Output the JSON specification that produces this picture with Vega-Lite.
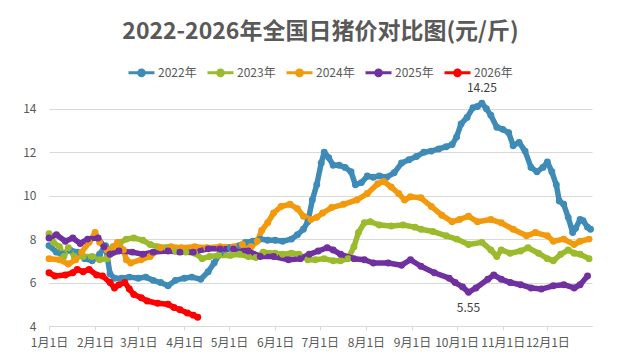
{
  "$schema": "https://vega.github.io/schema/vega-lite/v6.json",
  "width": 543,
  "height": 239,
  "autosize": {"type": "none"},
  "padding": {"left": 49, "top": 87, "right": 29, "bottom": 35},
  "background": "white",
  "title": {"text": "2022-2026年全国日猪价对比图(元/斤)", "fontSize": 23, "font": "Noto Sans CJK SC", "fontWeight": "bold", "color": "#595959", "anchor": "middle", "offset": 14},
  "config": {"font": "Noto Sans CJK SC", "view": {"stroke": null}},
  "layer": [
    {
      "data": {"values": [
        {"year":"2022年","date":"2022-01-01","price":7.7},{"year":"2022年","date":"2022-01-06","price":7.4},{"year":"2022年","date":"2022-01-10","price":7.3},{"year":"2022年","date":"2022-01-15","price":7.5},{"year":"2022年","date":"2022-01-20","price":7.4},{"year":"2022年","date":"2022-01-25","price":7.1},{"year":"2022年","date":"2022-01-30","price":7.0},{"year":"2022年","date":"2022-02-04","price":7.3},{"year":"2022年","date":"2022-02-08","price":7.7},{"year":"2022年","date":"2022-02-11","price":6.4},{"year":"2022年","date":"2022-02-14","price":6.2},{"year":"2022年","date":"2022-02-19","price":6.2},{"year":"2022年","date":"2022-02-24","price":6.25},{"year":"2022年","date":"2022-03-01","price":6.2},{"year":"2022年","date":"2022-03-06","price":6.25},{"year":"2022年","date":"2022-03-11","price":6.1},{"year":"2022年","date":"2022-03-16","price":6.0},{"year":"2022年","date":"2022-03-21","price":5.85},{"year":"2022年","date":"2022-03-26","price":6.1},{"year":"2022年","date":"2022-04-01","price":6.2},{"year":"2022年","date":"2022-04-06","price":6.25},{"year":"2022年","date":"2022-04-12","price":6.15},{"year":"2022年","date":"2022-04-17","price":6.5},{"year":"2022年","date":"2022-04-21","price":6.9},{"year":"2022年","date":"2022-04-25","price":7.35},{"year":"2022年","date":"2022-05-02","price":7.6},{"year":"2022年","date":"2022-05-08","price":7.7},{"year":"2022年","date":"2022-05-12","price":7.85},{"year":"2022年","date":"2022-05-17","price":7.9},{"year":"2022年","date":"2022-05-22","price":8.0},{"year":"2022年","date":"2022-05-27","price":7.95},{"year":"2022年","date":"2022-06-01","price":7.95},{"year":"2022年","date":"2022-06-06","price":7.9},{"year":"2022年","date":"2022-06-12","price":8.0},{"year":"2022年","date":"2022-06-16","price":8.2},{"year":"2022年","date":"2022-06-20","price":8.45},{"year":"2022年","date":"2022-06-23","price":8.8},{"year":"2022年","date":"2022-06-26","price":9.8},{"year":"2022年","date":"2022-06-29","price":10.5},{"year":"2022年","date":"2022-07-02","price":11.5},{"year":"2022年","date":"2022-07-04","price":12.0},{"year":"2022年","date":"2022-07-07","price":11.75},{"year":"2022年","date":"2022-07-10","price":11.4},{"year":"2022年","date":"2022-07-14","price":11.4},{"year":"2022年","date":"2022-07-18","price":11.3},{"year":"2022年","date":"2022-07-22","price":11.1},{"year":"2022年","date":"2022-07-25","price":10.5},{"year":"2022年","date":"2022-07-29","price":10.6},{"year":"2022年","date":"2022-08-02","price":10.9},{"year":"2022年","date":"2022-08-06","price":10.85},{"year":"2022年","date":"2022-08-10","price":10.9},{"year":"2022年","date":"2022-08-15","price":10.85},{"year":"2022年","date":"2022-08-20","price":11.05},{"year":"2022年","date":"2022-08-25","price":11.5},{"year":"2022年","date":"2022-08-30","price":11.65},{"year":"2022年","date":"2022-09-04","price":11.8},{"year":"2022年","date":"2022-09-09","price":12.0},{"year":"2022年","date":"2022-09-14","price":12.05},{"year":"2022年","date":"2022-09-19","price":12.15},{"year":"2022年","date":"2022-09-24","price":12.25},{"year":"2022年","date":"2022-09-28","price":12.35},{"year":"2022年","date":"2022-10-01","price":12.7},{"year":"2022年","date":"2022-10-04","price":13.3},{"year":"2022年","date":"2022-10-08","price":13.6},{"year":"2022年","date":"2022-10-12","price":14.05},{"year":"2022年","date":"2022-10-15","price":14.1},{"year":"2022年","date":"2022-10-18","price":14.25},{"year":"2022年","date":"2022-10-21","price":14.0},{"year":"2022年","date":"2022-10-24","price":13.7},{"year":"2022年","date":"2022-10-28","price":13.15},{"year":"2022年","date":"2022-11-01","price":13.05},{"year":"2022年","date":"2022-11-05","price":12.9},{"year":"2022年","date":"2022-11-08","price":12.3},{"year":"2022年","date":"2022-11-12","price":12.45},{"year":"2022年","date":"2022-11-16","price":12.05},{"year":"2022年","date":"2022-11-20","price":11.3},{"year":"2022年","date":"2022-11-24","price":11.1},{"year":"2022年","date":"2022-11-28","price":11.3},{"year":"2022年","date":"2022-12-01","price":11.55},{"year":"2022年","date":"2022-12-04","price":11.1},{"year":"2022年","date":"2022-12-07","price":10.5},{"year":"2022年","date":"2022-12-09","price":9.75},{"year":"2022年","date":"2022-12-12","price":9.6},{"year":"2022年","date":"2022-12-15","price":9.0},{"year":"2022年","date":"2022-12-18","price":8.3},{"year":"2022年","date":"2022-12-20","price":8.5},{"year":"2022年","date":"2022-12-23","price":8.9},{"year":"2022年","date":"2022-12-25","price":8.85},{"year":"2022年","date":"2022-12-28","price":8.55},{"year":"2022年","date":"2022-12-30","price":8.45},
        {"year":"2023年","date":"2023-01-01","price":8.25},{"year":"2023年","date":"2023-01-04","price":7.85},{"year":"2023年","date":"2023-01-08","price":7.65},{"year":"2023年","date":"2023-01-11","price":7.2},{"year":"2023年","date":"2023-01-14","price":7.6},{"year":"2023年","date":"2023-01-18","price":7.2},{"year":"2023年","date":"2023-01-24","price":7.2},{"year":"2023年","date":"2023-01-30","price":7.2},{"year":"2023年","date":"2023-02-04","price":7.05},{"year":"2023年","date":"2023-02-09","price":7.1},{"year":"2023年","date":"2023-02-13","price":7.65},{"year":"2023年","date":"2023-02-18","price":7.85},{"year":"2023年","date":"2023-02-22","price":8.0},{"year":"2023年","date":"2023-02-27","price":8.05},{"year":"2023年","date":"2023-03-04","price":7.95},{"year":"2023年","date":"2023-03-09","price":7.75},{"year":"2023年","date":"2023-03-14","price":7.65},{"year":"2023年","date":"2023-03-20","price":7.6},{"year":"2023年","date":"2023-03-26","price":7.45},{"year":"2023年","date":"2023-04-02","price":7.4},{"year":"2023年","date":"2023-04-08","price":7.35},{"year":"2023年","date":"2023-04-13","price":7.1},{"year":"2023年","date":"2023-04-18","price":7.2},{"year":"2023年","date":"2023-04-24","price":7.25},{"year":"2023年","date":"2023-05-02","price":7.25},{"year":"2023年","date":"2023-05-08","price":7.3},{"year":"2023年","date":"2023-05-14","price":7.2},{"year":"2023年","date":"2023-05-19","price":7.15},{"year":"2023年","date":"2023-05-24","price":7.4},{"year":"2023年","date":"2023-06-01","price":7.35},{"year":"2023年","date":"2023-06-06","price":7.3},{"year":"2023年","date":"2023-06-12","price":7.35},{"year":"2023年","date":"2023-06-17","price":7.3},{"year":"2023年","date":"2023-06-23","price":7.05},{"year":"2023年","date":"2023-06-28","price":7.05},{"year":"2023年","date":"2023-07-04","price":7.1},{"year":"2023年","date":"2023-07-10","price":7.0},{"year":"2023年","date":"2023-07-15","price":7.0},{"year":"2023年","date":"2023-07-20","price":7.1},{"year":"2023年","date":"2023-07-24","price":7.65},{"year":"2023年","date":"2023-07-27","price":8.3},{"year":"2023年","date":"2023-07-31","price":8.75},{"year":"2023年","date":"2023-08-04","price":8.8},{"year":"2023年","date":"2023-08-10","price":8.65},{"year":"2023年","date":"2023-08-18","price":8.6},{"year":"2023年","date":"2023-08-26","price":8.65},{"year":"2023年","date":"2023-09-03","price":8.55},{"year":"2023年","date":"2023-09-07","price":8.45},{"year":"2023年","date":"2023-09-15","price":8.35},{"year":"2023年","date":"2023-09-24","price":8.15},{"year":"2023年","date":"2023-10-01","price":8.0},{"year":"2023年","date":"2023-10-09","price":7.75},{"year":"2023年","date":"2023-10-18","price":7.85},{"year":"2023年","date":"2023-10-24","price":7.5},{"year":"2023年","date":"2023-10-28","price":7.2},{"year":"2023年","date":"2023-10-31","price":7.5},{"year":"2023年","date":"2023-11-06","price":7.35},{"year":"2023年","date":"2023-11-13","price":7.45},{"year":"2023年","date":"2023-11-18","price":7.6},{"year":"2023年","date":"2023-11-25","price":7.35},{"year":"2023年","date":"2023-12-01","price":7.1},{"year":"2023年","date":"2023-12-05","price":7.0},{"year":"2023年","date":"2023-12-10","price":7.3},{"year":"2023年","date":"2023-12-15","price":7.5},{"year":"2023年","date":"2023-12-19","price":7.35},{"year":"2023年","date":"2023-12-23","price":7.3},{"year":"2023年","date":"2023-12-29","price":7.1},
        {"year":"2024年","date":"2024-01-01","price":7.1},{"year":"2024年","date":"2024-01-08","price":7.05},{"year":"2024年","date":"2024-01-14","price":6.85},{"year":"2024年","date":"2024-01-19","price":7.05},{"year":"2024年","date":"2024-01-23","price":7.4},{"year":"2024年","date":"2024-01-28","price":7.85},{"year":"2024年","date":"2024-02-01","price":8.3},{"year":"2024年","date":"2024-02-04","price":7.85},{"year":"2024年","date":"2024-02-09","price":7.5},{"year":"2024年","date":"2024-02-14","price":7.65},{"year":"2024年","date":"2024-02-16","price":7.85},{"year":"2024年","date":"2024-02-20","price":7.5},{"year":"2024年","date":"2024-02-22","price":7.05},{"year":"2024年","date":"2024-02-25","price":6.9},{"year":"2024年","date":"2024-03-03","price":7.05},{"year":"2024年","date":"2024-03-09","price":7.2},{"year":"2024年","date":"2024-03-16","price":7.6},{"year":"2024年","date":"2024-03-23","price":7.65},{"year":"2024年","date":"2024-03-30","price":7.6},{"year":"2024年","date":"2024-04-08","price":7.65},{"year":"2024年","date":"2024-04-16","price":7.6},{"year":"2024年","date":"2024-04-25","price":7.65},{"year":"2024年","date":"2024-05-04","price":7.65},{"year":"2024年","date":"2024-05-10","price":7.75},{"year":"2024年","date":"2024-05-16","price":7.65},{"year":"2024年","date":"2024-05-20","price":7.9},{"year":"2024年","date":"2024-05-23","price":8.4},{"year":"2024年","date":"2024-05-27","price":8.75},{"year":"2024年","date":"2024-05-31","price":9.2},{"year":"2024年","date":"2024-06-05","price":9.5},{"year":"2024年","date":"2024-06-11","price":9.6},{"year":"2024年","date":"2024-06-16","price":9.4},{"year":"2024年","date":"2024-06-20","price":9.05},{"year":"2024年","date":"2024-06-25","price":8.9},{"year":"2024年","date":"2024-06-29","price":9.0},{"year":"2024年","date":"2024-07-03","price":9.2},{"year":"2024年","date":"2024-07-09","price":9.45},{"year":"2024年","date":"2024-07-17","price":9.6},{"year":"2024年","date":"2024-07-26","price":9.8},{"year":"2024年","date":"2024-08-02","price":10.1},{"year":"2024年","date":"2024-08-09","price":10.55},{"year":"2024年","date":"2024-08-13","price":10.65},{"year":"2024年","date":"2024-08-18","price":10.4},{"year":"2024年","date":"2024-08-23","price":10.1},{"year":"2024年","date":"2024-08-27","price":9.8},{"year":"2024年","date":"2024-08-31","price":9.95},{"year":"2024年","date":"2024-09-07","price":9.9},{"year":"2024年","date":"2024-09-14","price":9.5},{"year":"2024年","date":"2024-09-21","price":9.1},{"year":"2024年","date":"2024-09-28","price":8.8},{"year":"2024年","date":"2024-10-03","price":8.9},{"year":"2024年","date":"2024-10-09","price":9.05},{"year":"2024年","date":"2024-10-15","price":8.8},{"year":"2024年","date":"2024-10-24","price":8.9},{"year":"2024年","date":"2024-10-31","price":8.75},{"year":"2024年","date":"2024-11-08","price":8.45},{"year":"2024年","date":"2024-11-17","price":8.15},{"year":"2024年","date":"2024-11-23","price":8.3},{"year":"2024年","date":"2024-12-01","price":8.15},{"year":"2024年","date":"2024-12-05","price":7.9},{"year":"2024年","date":"2024-12-12","price":8.0},{"year":"2024年","date":"2024-12-19","price":7.75},{"year":"2024年","date":"2024-12-23","price":7.9},{"year":"2024年","date":"2024-12-29","price":8.0},
        {"year":"2025年","date":"2025-01-01","price":8.05},{"year":"2025年","date":"2025-01-06","price":8.2},{"year":"2025年","date":"2025-01-12","price":7.9},{"year":"2025年","date":"2025-01-17","price":8.05},{"year":"2025年","date":"2025-01-22","price":7.8},{"year":"2025年","date":"2025-01-27","price":8.0},{"year":"2025年","date":"2025-02-03","price":8.05},{"year":"2025年","date":"2025-02-07","price":7.65},{"year":"2025年","date":"2025-02-11","price":7.3},{"year":"2025年","date":"2025-02-17","price":7.45},{"year":"2025年","date":"2025-02-26","price":7.4},{"year":"2025年","date":"2025-03-04","price":7.3},{"year":"2025年","date":"2025-03-11","price":7.4},{"year":"2025年","date":"2025-03-21","price":7.45},{"year":"2025年","date":"2025-03-29","price":7.4},{"year":"2025年","date":"2025-04-07","price":7.4},{"year":"2025年","date":"2025-04-17","price":7.55},{"year":"2025年","date":"2025-04-25","price":7.55},{"year":"2025年","date":"2025-05-04","price":7.55},{"year":"2025年","date":"2025-05-14","price":7.45},{"year":"2025年","date":"2025-05-22","price":7.2},{"year":"2025年","date":"2025-05-31","price":7.2},{"year":"2025年","date":"2025-06-10","price":7.05},{"year":"2025年","date":"2025-06-18","price":7.1},{"year":"2025年","date":"2025-06-24","price":7.3},{"year":"2025年","date":"2025-06-30","price":7.45},{"year":"2025年","date":"2025-07-06","price":7.6},{"year":"2025年","date":"2025-07-10","price":7.5},{"year":"2025年","date":"2025-07-15","price":7.3},{"year":"2025年","date":"2025-07-24","price":7.1},{"year":"2025年","date":"2025-07-31","price":7.05},{"year":"2025年","date":"2025-08-06","price":6.9},{"year":"2025年","date":"2025-08-16","price":6.9},{"year":"2025年","date":"2025-08-25","price":6.8},{"year":"2025年","date":"2025-08-31","price":7.05},{"year":"2025年","date":"2025-09-07","price":6.75},{"year":"2025年","date":"2025-09-16","price":6.45},{"year":"2025年","date":"2025-09-26","price":6.2},{"year":"2025年","date":"2025-09-30","price":6.0},{"year":"2025年","date":"2025-10-05","price":5.8},{"year":"2025年","date":"2025-10-09","price":5.55},{"year":"2025年","date":"2025-10-14","price":5.75},{"year":"2025年","date":"2025-10-22","price":6.15},{"year":"2025年","date":"2025-10-26","price":6.35},{"year":"2025年","date":"2025-10-31","price":6.15},{"year":"2025年","date":"2025-11-06","price":6.0},{"year":"2025年","date":"2025-11-13","price":5.9},{"year":"2025年","date":"2025-11-20","price":5.75},{"year":"2025年","date":"2025-11-27","price":5.7},{"year":"2025年","date":"2025-12-05","price":5.85},{"year":"2025年","date":"2025-12-12","price":5.9},{"year":"2025年","date":"2025-12-19","price":5.75},{"year":"2025年","date":"2025-12-23","price":5.9},{"year":"2025年","date":"2025-12-28","price":6.3},
        {"year":"2026年","date":"2026-01-01","price":6.45},{"year":"2026年","date":"2026-01-05","price":6.3},{"year":"2026年","date":"2026-01-12","price":6.35},{"year":"2026年","date":"2026-01-17","price":6.45},{"year":"2026年","date":"2026-01-20","price":6.6},{"year":"2026年","date":"2026-01-24","price":6.5},{"year":"2026年","date":"2026-01-28","price":6.6},{"year":"2026年","date":"2026-02-02","price":6.35},{"year":"2026年","date":"2026-02-06","price":6.3},{"year":"2026年","date":"2026-02-11","price":6.0},{"year":"2026年","date":"2026-02-14","price":5.75},{"year":"2026年","date":"2026-02-17","price":5.9},{"year":"2026年","date":"2026-02-21","price":6.0},{"year":"2026年","date":"2026-02-24","price":5.7},{"year":"2026年","date":"2026-02-27","price":5.45},{"year":"2026年","date":"2026-03-03","price":5.3},{"year":"2026年","date":"2026-03-07","price":5.15},{"year":"2026年","date":"2026-03-14","price":5.05},{"year":"2026年","date":"2026-03-21","price":5.0},{"year":"2026年","date":"2026-03-25","price":4.85},{"year":"2026年","date":"2026-03-29","price":4.75},{"year":"2026年","date":"2026-04-03","price":4.6},{"year":"2026年","date":"2026-04-07","price":4.5},{"year":"2026年","date":"2026-04-10","price":4.4}
      ]},
      "mark": {"type": "line", "strokeWidth": 5.5, "strokeJoin": "round", "strokeCap": "round", "point": {"filled": true, "size": 48}},
      "encoding": {
        "x": {"field": "date", "timeUnit": "utcmonthdate", "type": "temporal",
          "scale": {"domain": [{"year": 2012, "month": 1, "date": 1, "utc": true}, {"year": 2012, "month": 12, "date": 31, "utc": true}]},
          "axis": {"title": null, "grid": false, "labelExpr": "utcFormat(datum.value, '%-m月%-d日')",
            "values": [{"year":2012,"month":1,"date":1,"utc":true},{"year":2012,"month":2,"date":1,"utc":true},{"year":2012,"month":3,"date":1,"utc":true},{"year":2012,"month":4,"date":1,"utc":true},{"year":2012,"month":5,"date":1,"utc":true},{"year":2012,"month":6,"date":1,"utc":true},{"year":2012,"month":7,"date":1,"utc":true},{"year":2012,"month":8,"date":1,"utc":true},{"year":2012,"month":9,"date":1,"utc":true},{"year":2012,"month":10,"date":1,"utc":true},{"year":2012,"month":11,"date":1,"utc":true},{"year":2012,"month":12,"date":1,"utc":true}],
            "domainColor": "#d9d9d9", "tickColor": "#d9d9d9", "tickSize": 4, "labelFontSize": 12, "labelColor": "#595959", "labelPadding": 7, "labelFlush": false, "labelOverlap": false}},
        "y": {"field": "price", "type": "quantitative",
          "scale": {"domain": [4, 15], "nice": false, "zero": false},
          "axis": {"title": null, "values": [4, 6, 8, 10, 12, 14], "grid": true, "gridColor": "#d9d9d9", "domain": false, "ticks": false, "labelPadding": 13, "labelFontSize": 12, "labelColor": "#595959"}},
        "color": {"field": "year", "type": "nominal",
          "scale": {"domain": ["2022年", "2023年", "2024年", "2025年", "2026年"], "range": ["#3e8bb8", "#9bbb2c", "#f39a0c", "#7030a0", "#ff0000"]},
          "legend": {"title": null, "orient": "none", "legendX": 78, "legendY": -29, "direction": "horizontal",
            "symbolType": "M-1,0L1,0M-0.22,0A0.22,0.22,0,1,1,0.22,0A0.22,0.22,0,1,1,-0.22,0Z", "symbolSize": 676, "symbolStrokeWidth": 3,
            "labelFontSize": 12, "labelColor": "#595959", "columnPadding": 4, "labelOffset": 2,
            "encode": {"symbols": {"update": {"fill": {"scale": "color", "field": "value"}, "stroke": {"scale": "color", "field": "value"}}}}}}
      }
    },
    {
      "data": {"values": [{"date": "2022-10-18", "price": 14.25, "label": "14.25"}]},
      "mark": {"type": "text", "dy": -15, "fontSize": 12, "color": "#404040"},
      "encoding": {
        "x": {"field": "date", "timeUnit": "utcmonthdate", "type": "temporal"},
        "y": {"field": "price", "type": "quantitative"},
        "text": {"field": "label"}
      }
    },
    {
      "data": {"values": [{"date": "2025-10-09", "price": 5.55, "label": "5.55"}]},
      "mark": {"type": "text", "dy": 16, "fontSize": 12, "color": "#404040"},
      "encoding": {
        "x": {"field": "date", "timeUnit": "utcmonthdate", "type": "temporal"},
        "y": {"field": "price", "type": "quantitative"},
        "text": {"field": "label"}
      }
    }
  ]
}
